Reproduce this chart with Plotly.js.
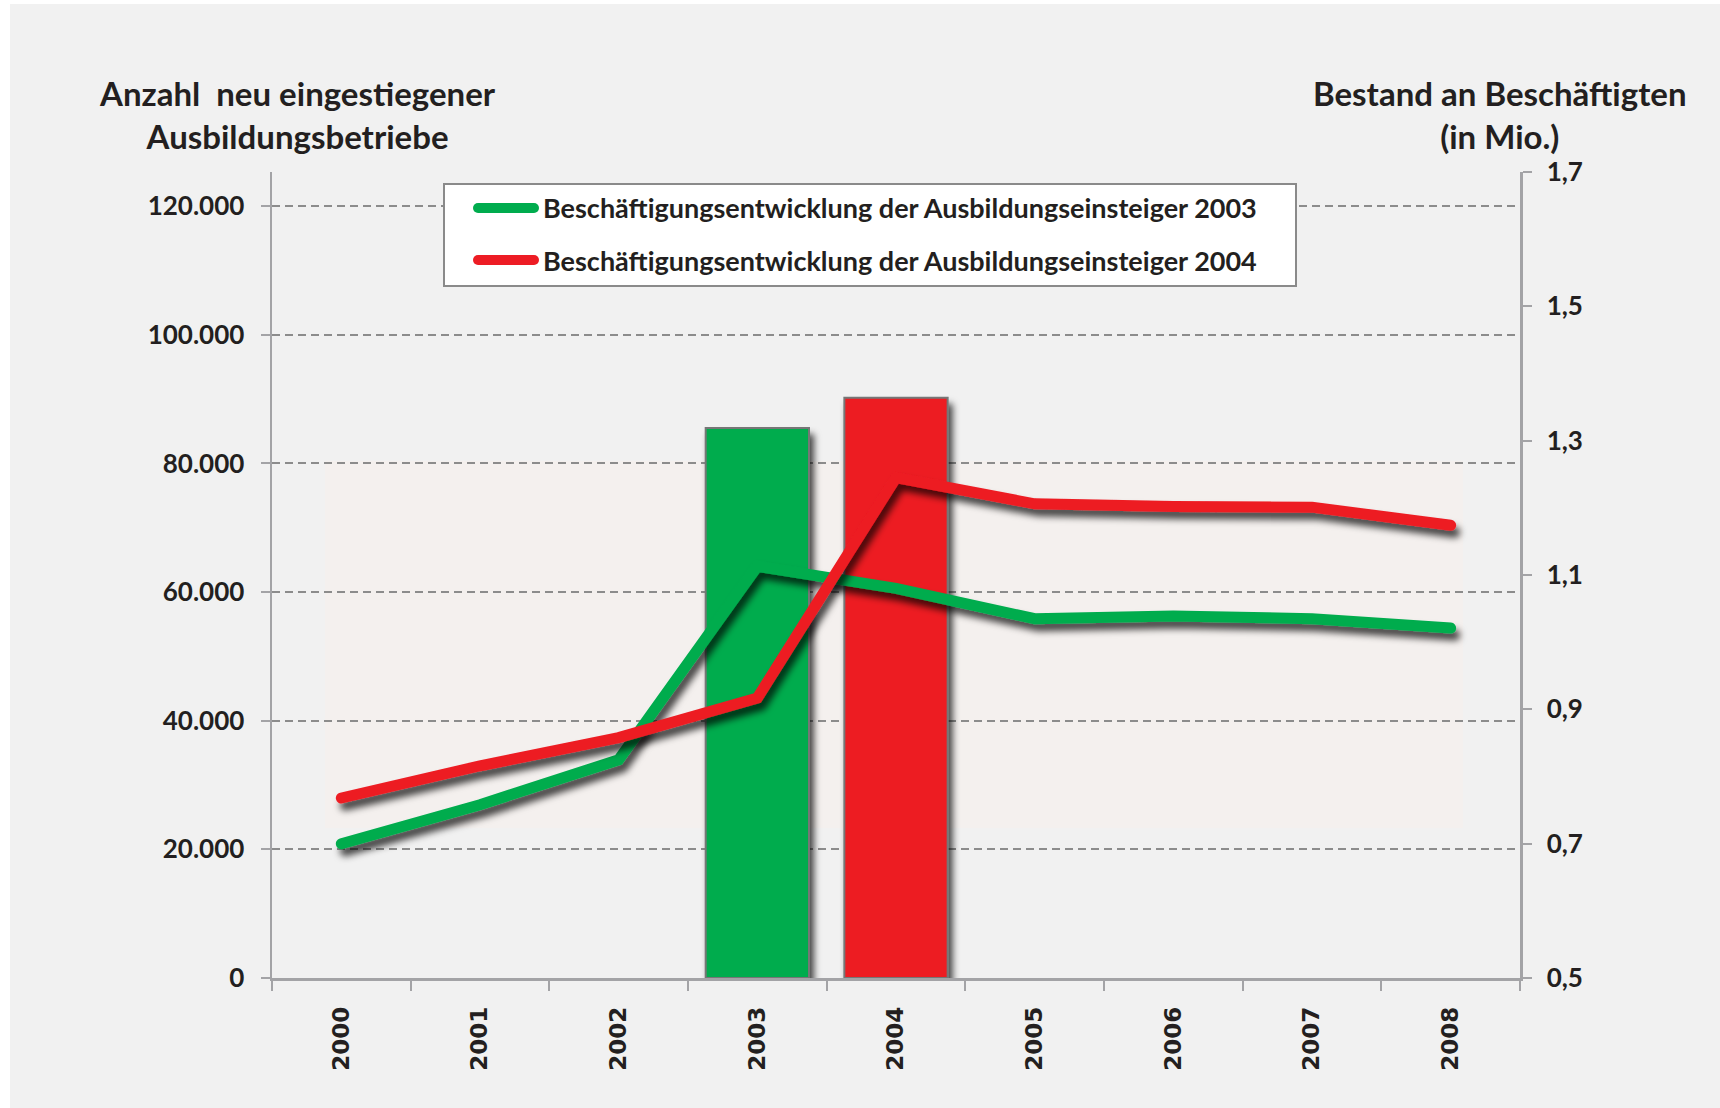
<!DOCTYPE html>
<html>
<head>
<meta charset="utf-8">
<script src="https://cdn.plot.ly/plotly-3.0.1.min.js"></script>
<style>
html,body{margin:0;padding:0;background:#ffffff;}
#chart{width:1720px;height:1108px;}
</style>
</head>
<body>
<div id="chart"></div>
<script>
// ---- data ----
const years = ['2000','2001','2002','2003','2004','2005','2006','2007','2008'];
const barYears = ['2003','2004'];
const barValues = [85500, 90200];
const barColors = ['#00ac4e', '#ed1c24'];
const emp2003 = [0.700, 0.758, 0.825, 1.113, 1.080, 1.035, 1.039, 1.035, 1.021];
const emp2004 = [0.768, 0.816, 0.858, 0.917, 1.245, 1.206, 1.202, 1.201, 1.174];
const leftTicks = [0, 20000, 40000, 60000, 80000, 100000, 120000];
const rightTicks = [0.5, 0.7, 0.9, 1.1, 1.3, 1.5, 1.7];
const name2003 = 'Beschäftigungsentwicklung der Ausbildungseinsteiger 2003';
const name2004 = 'Beschäftigungsentwicklung der Ausbildungseinsteiger 2004';
const titleLeft = 'Anzahl  neu eingestiegener<br>Ausbildungsbetriebe';
const titleRight = 'Bestand an Beschäftigten<br>(in Mio.)';

const GREEN = '#00ac4e', RED = '#ed1c24', TXT = '#231f20', AX = '#a3a3a6';
const labelFont = {family: 'Lato, "Open Sans", sans-serif', size: 26, color: TXT, weight: 700};

const traces = [
  {type: 'bar', x: barYears, y: barValues, width: 0.745,
   marker: {color: barColors, line: {color: '#767676', width: 2}},
   xaxis: 'x', yaxis: 'y', showlegend: false, hoverinfo: 'skip'},
  {type: 'scatter', mode: 'lines', x: years, y: emp2003, name: name2003,
   line: {color: GREEN, width: 11}, xaxis: 'x', yaxis: 'y2', showlegend: false},
  {type: 'scatter', mode: 'lines', x: years, y: emp2004, name: name2004,
   line: {color: RED, width: 11}, xaxis: 'x', yaxis: 'y2', showlegend: false}
];

// plot area in px: x 272..1520, y 172..978
const L = 272, R = 1520, T = 172, B = 978, W = 1720, H = 1108;
const px = v => (v - L) / (R - L);
const py = v => (B - v) / (B - T);

const layout = {
  width: W, height: H,
  margin: {l: L, r: W - R, t: T, b: H - B, pad: 0},
  paper_bgcolor: '#f1f1f1',
  plot_bgcolor: 'rgba(0,0,0,0)',
  separators: ',.',
  barmode: 'overlay',
  showlegend: false,
  font: {family: 'Lato, sans-serif', color: TXT},
  xaxis: {
    type: 'category', categoryorder: 'array', categoryarray: years,
    range: [-0.5, 8.5], showgrid: false, zeroline: false,
    showline: true, linecolor: AX, linewidth: 2.5,
    ticks: 'outside', tickson: 'boundaries', ticklen: 10, tickwidth: 2, tickcolor: AX,
    tickangle: -90, ticklabelstandoff: 17,
    tickfont: {family: '"DejaVu Sans", Verdana, sans-serif', size: 23, color: TXT, weight: 700}
  },
  yaxis: {
    range: [0, 125300], tickvals: leftTicks, tickformat: ',d',
    showgrid: true, gridcolor: '#8c8c8c', gridwidth: 2, griddash: '8px,5px',
    zeroline: false, showline: true, linecolor: AX, linewidth: 2.5,
    ticks: 'outside', ticklen: 9, tickwidth: 2, tickcolor: AX,
    ticklabelstandoff: 11, tickfont: labelFont
  },
  yaxis2: {
    overlaying: 'y', side: 'right',
    range: [0.5, 1.7], tickvals: rightTicks, tickformat: '.1f',
    showgrid: false, zeroline: false, showline: true, linecolor: AX, linewidth: 2.5,
    ticks: 'outside', ticklen: 9, tickwidth: 2, tickcolor: AX,
    ticklabelstandoff: 10, tickfont: labelFont
  },
  shapes: [
    // white outer strips
    {type: 'rect', xref: 'paper', yref: 'paper', x0: px(0), x1: px(10), y0: py(H), y1: py(0),
     fillcolor: '#ffffff', line: {width: 0}, layer: 'below'},
    {type: 'rect', xref: 'paper', yref: 'paper', x0: px(0), x1: px(W), y0: py(4), y1: py(0),
     fillcolor: '#ffffff', line: {width: 0}, layer: 'below'},
    // faint warm glow region
    {type: 'rect', xref: 'paper', yref: 'paper', x0: px(325), x1: px(1463), y0: py(828), y1: py(461),
     fillcolor: '#f4f0ee', line: {width: 0}, layer: 'below'},
    // legend box
    {type: 'rect', xref: 'paper', yref: 'paper', x0: px(444), x1: px(1296), y0: py(286), y1: py(184),
     fillcolor: '#ffffff', line: {color: '#8a8a8a', width: 2}, layer: 'above'},
    {type: 'line', xref: 'paper', yref: 'paper', x0: px(478), x1: px(534), y0: py(208), y1: py(208),
     line: {color: GREEN, width: 10}, layer: 'above'},
    {type: 'line', xref: 'paper', yref: 'paper', x0: px(478), x1: px(534), y0: py(260), y1: py(260),
     line: {color: RED, width: 10}, layer: 'above'}
  ],
  annotations: [
    {xref: 'paper', yref: 'paper', x: px(297), y: py(114), xanchor: 'center', yanchor: 'middle',
     text: titleLeft, showarrow: false, align: 'center',
     font: {family: 'Lato, sans-serif', size: 33, color: TXT, weight: 700}},
    {xref: 'paper', yref: 'paper', x: px(1500), y: py(114), xanchor: 'center', yanchor: 'middle',
     text: titleRight, showarrow: false, align: 'center',
     font: {family: 'Lato, sans-serif', size: 33, color: TXT, weight: 700}},
    {xref: 'paper', yref: 'paper', x: px(541), y: py(208), xanchor: 'left', yanchor: 'middle',
     text: name2003, showarrow: false,
     font: {family: 'Lato, sans-serif', size: 27, color: TXT, weight: 700}},
    {xref: 'paper', yref: 'paper', x: px(541), y: py(260), xanchor: 'left', yanchor: 'middle',
     text: name2004, showarrow: false,
     font: {family: 'Lato, sans-serif', size: 27, color: TXT, weight: 700}}
  ]
};

Plotly.newPlot('chart', traces, layout, {displayModeBar: false, staticPlot: true}).then(gd => {
  const NS = 'http://www.w3.org/2000/svg';
  const svg = gd.querySelector('.main-svg');
  let defs = svg.querySelector('defs');
  if (!defs) { defs = document.createElementNS(NS, 'defs'); svg.insertBefore(defs, svg.firstChild); }
  const f = document.createElementNS(NS, 'filter');
  f.setAttribute('id', 'softShadow');
  f.setAttribute('x', '-20%'); f.setAttribute('y', '-20%');
  f.setAttribute('width', '150%'); f.setAttribute('height', '150%');
  const ds = document.createElementNS(NS, 'feDropShadow');
  ds.setAttribute('dx', '4'); ds.setAttribute('dy', '7');
  ds.setAttribute('stdDeviation', '3.5');
  ds.setAttribute('flood-color', '#000'); ds.setAttribute('flood-opacity', '0.72');
  f.appendChild(ds);
  defs.appendChild(f);
  gd.querySelectorAll('.barlayer .trace, .scatterlayer .trace').forEach(g => g.setAttribute('filter', 'url(#softShadow)'));
  gd.querySelectorAll('.scatterlayer path.js-line').forEach(p => { p.style.strokeLinecap = 'round'; });
  // rounded ends for legend symbols
  gd.querySelectorAll('.shapelayer path').forEach(p => {
    if (p.getAttribute('d') && p.getAttribute('d').indexOf('Z') < 0) p.style.strokeLinecap = 'round';
  });
});
</script>
</body>
</html>
